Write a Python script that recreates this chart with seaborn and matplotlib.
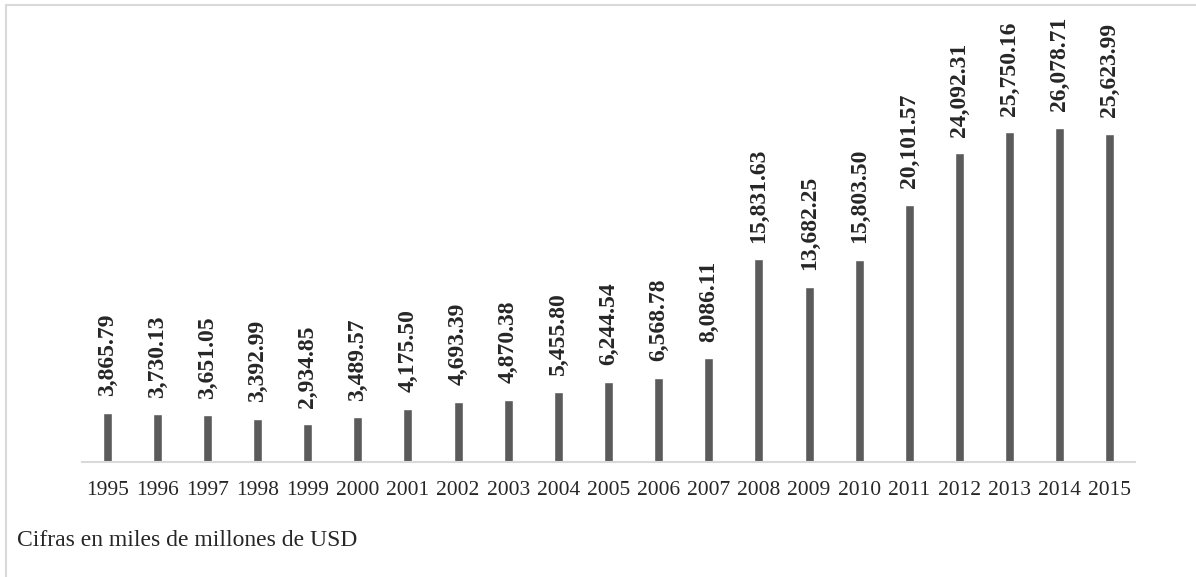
import pandas as pd
import matplotlib.pyplot as plt
import seaborn as sns
from matplotlib.patches import Rectangle

# datos
anhos = ["1995", "1996", "1997", "1998", "1999", "2000", "2001", "2002", "2003", "2004", "2005",
         "2006", "2007", "2008", "2009", "2010", "2011", "2012", "2013", "2014", "2015"]
valores = [3865.79, 3730.13, 3651.05, 3392.99, 2934.85, 3489.57, 4175.50, 4693.39, 4870.38,
           5455.80, 6244.54, 6568.78, 8086.11, 15831.63, 13682.25, 15803.50, 20101.57,
           24092.31, 25750.16, 26078.71, 25623.99]
nota = "Cifras en miles de millones de USD"

df = pd.DataFrame({"anho": anhos, "valor": valores})

sns.set_style("white")
plt.rcParams['font.family'] = ['Liberation Serif', 'DejaVu Serif']

fig = plt.figure(figsize=(11.96, 5.77), dpi=100)
ax = fig.add_axes([0.0686, 0.1993, 0.8804, 0.7834])

sns.barplot(data=df, x="anho", y="valor", color="#5b5b5b", width=0.18,
            saturation=1, ax=ax)

ax.set_ylim(0, 35300)
ax.set_xlim(-0.5, len(anhos) - 0.5)
ax.set_xlabel("")
ax.set_ylabel("")
ax.set_yticks([])
ax.tick_params(axis="x", length=0, labelsize=15.5, pad=14)

for s in ["top", "right", "left"]:
    ax.spines[s].set_visible(False)
ax.spines["bottom"].set_color("#d9d9d9")
ax.spines["bottom"].set_linewidth(1.5)

# etiquetas de valor verticales
for i, v in enumerate(valores):
    ax.annotate(f"{v:,.2f}", (i, v), xytext=(0, 12), textcoords="offset points",
                rotation=90, ha="center", va="bottom", fontsize=17,
                fontweight="bold")

fig.text(17 / 1196, 1 - 541 / 577, nota, fontsize=17, ha="left", va="center")

# marco del grafico
fig.patches.append(Rectangle((6 / 1196, -0.05), 1.1, 1 - 5 / 577 + 0.05,
                             transform=fig.transFigure, fill=False,
                             edgecolor="#d9d9d9", linewidth=1.5))

fig.savefig("out.png", dpi=100)
